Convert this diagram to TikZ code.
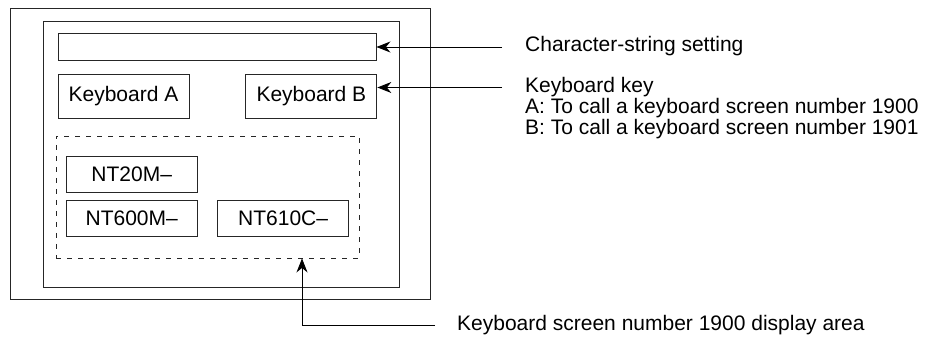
\documentclass[tikz,border=0pt]{standalone}
\usepackage{fontspec}
\setmainfont{Liberation Sans}
\usetikzlibrary{positioning}
\usetikzlibrary{arrows.meta}

\begin{document}
\begin{tikzpicture}[
	x=1pt, y=-1pt,
	font=\fontsize{21}{21}\selectfont,
	frame/.style={rectangle, draw=black!85, line width=0.9pt, inner sep=0pt},
	key/.style={rectangle, draw=black!85, line width=0.9pt, minimum width=131, minimum height=43.5, inner sep=0pt},
	model/.style={rectangle, draw=black!85, line width=0.9pt, minimum width=130.5, minimum height=35.5, inner sep=0pt},
	area/.style={rectangle, draw=black!85, line width=0.9pt, dash pattern=on 5pt off 6pt, inner sep=0pt},
	note/.style={inner sep=0pt, align=left},
	arr/.style={-{Stealth[length=14pt, width=11pt, inset=4.5pt]}, line width=0.9pt},
	]
	\useasboundingbox (0,0) rectangle (929,339);
	
	%Nodes
	\node[frame, minimum width=420, minimum height=291.5] (outer) at (220,153.75) {};
	\node[frame, minimum width=356, minimum height=266]   (inner) at (221,154)    {};
	\node[frame, minimum width=318, minimum height=27.5]  (bar)   at (217,47)     {};
	\node[key]    (kbA)                            at (123.5,96.25) {Keyboard A};
	\node[key]    (kbB)     [right = 56pt of kbA]                   {Keyboard B};
	\node[area, minimum width=303, minimum height=122] (disp) at (207.5,197) {};
	\node[model]  (nt20)                           at (131.75,174.25) {NT20M--};
	\node[model]  (nt600)   [below = 8pt of nt20]                    {NT600M--};
	\node[model]  (nt610)   [right = 20pt of nt600]                  {NT610C--};
	
	\node[note, anchor=west]       (strtxt)  at (525,46)    {Character-string setting};
	\node[note, anchor=north west] (keytxt)  at (525,77.5)  {Keyboard key\\A: To call a keyboard screen number 1900\\B: To call a keyboard screen number 1901};
	\node[note, anchor=west]       (disptxt) at (457,325)   {Keyboard screen number 1900 display area};
	
	\coordinate (strend)  at (502,47);
	\coordinate (keyend)  at (502,87.5);
	\coordinate (dispend) at (435,325);
	
	%Lines
	\draw[arr] (strend)  -- (bar.east);
	\draw[arr] (keyend)  -- (keyend -| kbB.east);
	\draw[arr] (dispend) -| ([xshift=94.5pt]disp.south);
\end{tikzpicture}
\end{document}
